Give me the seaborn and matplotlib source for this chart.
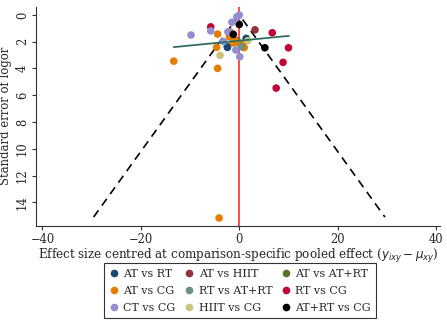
import numpy as np
import pandas as pd
import seaborn as sns
import matplotlib.pyplot as plt
from matplotlib.lines import Line2D

# comparisons and their colours (stata s2color)
comparisons = ['AT vs RT', 'AT vs HIIT', 'AT vs AT+RT',
               'AT vs CG', 'RT vs AT+RT', 'RT vs CG',
               'CT vs CG', 'HIIT vs CG', 'AT+RT vs CG']
colors = ['#1a476f', '#90353b', '#55752f',
          '#e37e00', '#6e8e84', '#c10534',
          '#938dd2', '#cac27e', '#000000']

# centred effect size and standard error, one list per comparison
at_rt_x = [1.4, -2.4, -2.4]
at_rt_y = [1.76, 2.38, 2.43]
at_hiit_x = [3.2]
at_hiit_y = [1.12]
at_atrt_x = [-0.4]
at_atrt_y = [1.95]
at_cg_x = [-4.4, -13.3, -4.6, -4.4, -2.0, -1.5, -1.0, -0.5, 0.5, 0.8, 1.0, -1.2, -1.8, -4.1]
at_cg_y = [1.44, 3.46, 2.43, 4.0, 1.64, 1.45, 1.9, 2.05, 2.2, 2.3, 2.45, 2.1, 1.3, 15.17]
rt_atrt_x = [0.4]
rt_atrt_y = [2.38]
rt_cg_x = [-5.8, 6.7, 10.0, 8.9, 7.5]
rt_cg_y = [0.9, 1.34, 2.46, 3.55, 5.47]
ct_cg_x = [0.0, -0.5, -1.5, -5.8, -9.8, -2.3, -3.2, -0.7, 0.1]
ct_cg_y = [0.02, 0.15, 0.55, 1.2, 1.51, 1.27, 2.0, 2.63, 3.13]
hiit_cg_x = [1.7, -3.9]
hiit_cg_y = [1.94, 3.03]
atrt_cg_x = [0.0, -1.2, 5.2]
atrt_cg_y = [0.72, 1.46, 2.46]

# fitted line and funnel limits
fit_x = [-13.3, 10.1]
fit_y = [2.41, 1.57]
se_max = 15.1

groups = [
    ('AT vs RT', at_rt_x, at_rt_y), ('AT vs HIIT', at_hiit_x, at_hiit_y),
    ('AT vs AT+RT', at_atrt_x, at_atrt_y), ('AT vs CG', at_cg_x, at_cg_y),
    ('RT vs AT+RT', rt_atrt_x, rt_atrt_y), ('RT vs CG', rt_cg_x, rt_cg_y),
    ('CT vs CG', ct_cg_x, ct_cg_y), ('HIIT vs CG', hiit_cg_x, hiit_cg_y),
    ('AT+RT vs CG', atrt_cg_x, atrt_cg_y),
]
df = pd.concat([pd.DataFrame({'comp': name, 'effect': xs, 'se': ys})
                for name, xs, ys in groups], ignore_index=True)

sns.set_style('ticks')
plt.rcParams['font.family'] = ['DejaVu Serif']
plt.rcParams['font.size'] = 8

fig = plt.figure(figsize=(4.47, 3.23), dpi=100)
ax = fig.add_axes([0.0805, 0.301, 0.904, 0.678])

# funnel (pseudo 95% limits) and null line
ax.plot([-1.96 * se_max, 0, 1.96 * se_max], [se_max, 0, se_max],
        color='black', lw=1.2, ls=(0, (5, 3.5)), zorder=1)
ax.axvline(0, color='#ff1a1a', lw=1.1, zorder=1)

sns.scatterplot(data=df, x='effect', y='se', hue='comp', hue_order=comparisons,
                palette=dict(zip(comparisons, colors)), s=30, linewidth=0,
                legend=False, ax=ax, zorder=3)
ax.plot(fit_x, fit_y, color='#2f6f5f', lw=1.3, zorder=4)

ax.set_xlim(-41.3, 40.8)
ax.set_ylim(15.75, -0.6)
ax.set_xticks([-40, -20, 0, 20, 40])
ax.set_yticks(range(0, 15, 2))
for lab in ax.get_yticklabels():
    lab.set_rotation(90)
    lab.set_va('center')
ax.tick_params(length=3, width=0.8, color='#333333', pad=2, labelsize=8.3)
sns.despine(ax=ax)
ax.spines['left'].set_color('#333333')
ax.spines['bottom'].set_color('#333333')

ax.set_xlabel(r'Effect size centred at comparison-specific pooled effect ($y_{ixy}-\mu_{xy}$)',
              labelpad=1, fontsize=8.6)
ax.set_ylabel('Standard error of logor', labelpad=3, fontsize=8.4)

# legend filled row-wise like the original
order = [0, 3, 6, 1, 4, 7, 2, 5, 8]
handles = [Line2D([], [], marker='o', ls='', color=colors[i], markersize=4.5)
           for i in order]
labels = [comparisons[i] for i in order]
leg = fig.legend(handles, labels, ncol=3, loc='center', fontsize=7.9,
                 bbox_to_anchor=(0.537, 0.10), frameon=True, fancybox=False,
                 edgecolor='black', handletextpad=0.4, columnspacing=0.8,
                 labelspacing=0.65, handlelength=0.9, borderpad=0.5)
leg.get_frame().set_linewidth(0.8)

fig.savefig('out.png', dpi=100)
